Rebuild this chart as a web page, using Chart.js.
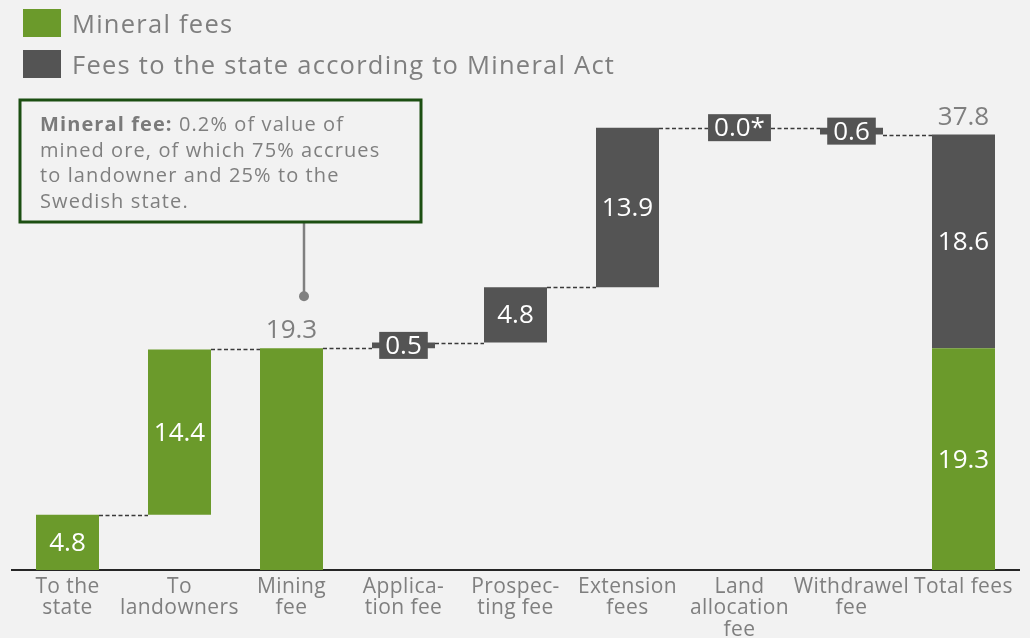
<!DOCTYPE html>
<html>
<head>
<meta charset="utf-8">
<script src="https://cdn.jsdelivr.net/npm/chart.js@4.4.1/dist/chart.umd.min.js"></script>
<style>
  html, body { margin: 0; padding: 0; background: #f2f2f2; }
  #wrap { position: relative; width: 1030px; height: 638px; overflow: hidden; background: #f2f2f2; }
  #chart { position: absolute; left: 0; top: 0; }
  #legend { position: absolute; left: 23px; top: 9px; font-family: 'Open Sans', sans-serif; color: #7f7f7f; font-size: 25.5px; letter-spacing: 1.25px; z-index: 2; }
  .item { display: flex; align-items: center; height: 28px; margin-bottom: 13px; white-space: nowrap; }
  .sw { width: 38px; height: 28px; margin-right: 11px; flex: none; }
</style>
</head>
<body>
<div id="wrap">
  <canvas id="chart" width="1030" height="638"></canvas>
  <div id="legend"></div>
</div>
<script>
// ---- data ----
const categories = [
  ["To the", "state"],
  ["To", "landowners"],
  ["Mining", "fee"],
  ["Applica-", "tion fee"],
  ["Prospec-", "ting fee"],
  ["Extension", "fees"],
  ["Land", "allocation", "fee"],
  ["Withdrawel", "fee"],
  ["Total fees"]
];
const seriesNames = ["Mineral fees", "Fees to the state according to Mineral Act"];
const mineralFees = [4.8, 14.4];            // To the state, To landowners
const miningFeeTotal = 19.3;                // Mining fee
const stateFees = [0.5, 4.8, 13.9, 0.0, -0.6]; // Application .. Withdrawel
const stateFeeMarks = ["", "", "", "*", ""];
const stateFeesTotal = 18.6;
const totalFees = 37.8;
const noteBold = "Mineral fee:";
const noteLines = [" 0.2% of value of", "mined ore, of which 75% accrues", "to landowner and 25% to the", "Swedish state."];

// ---- build floating bars ----
const GREEN = '#6b9a2b', DARK = '#545454', GRAY = '#7f7f7f';
const n = categories.length;
const greenData = new Array(n).fill(null);
const darkData = new Array(n).fill(null);
const greenLabels = new Array(n).fill(null);
const darkLabels = new Array(n).fill(null);
const levels = [];
let run = 0;
mineralFees.forEach((v, i) => {
  greenData[i] = [run, run + v]; greenLabels[i] = v.toFixed(1); run += v; levels[i] = run;
});
const miningIdx = mineralFees.length;
greenData[miningIdx] = [0, miningFeeTotal];
levels[miningIdx] = miningFeeTotal;
run = miningFeeTotal;
stateFees.forEach((v, k) => {
  const i = miningIdx + 1 + k;
  darkData[i] = [run, run + v];
  darkLabels[i] = Math.abs(v).toFixed(1) + stateFeeMarks[k];
  run += v; levels[i] = run;
});
const totalIdx = n - 1;
greenData[totalIdx] = [0, miningFeeTotal];
greenLabels[totalIdx] = miningFeeTotal.toFixed(1);
darkData[totalIdx] = [miningFeeTotal, miningFeeTotal + stateFeesTotal];
darkLabels[totalIdx] = stateFeesTotal.toFixed(1);

const FONT = "'Open Sans', sans-serif";

const waterfallPlugin = {
  id: 'waterfall',
  beforeDraw(chart) {
    chart.ctx.letterSpacing = '0.4px';
  },
  beforeDatasetsDraw(chart) {
    const ctx = chart.ctx, x = chart.scales.x, y = chart.scales.y;
    const bw = chart.getDatasetMeta(0).data[0].width;
    ctx.save();
    ctx.strokeStyle = '#3a3a3a';
    ctx.lineWidth = 1.3;
    ctx.setLineDash([4, 2.5]);
    for (let i = 0; i < n - 1; i++) {
      const py = Math.round(y.getPixelForValue(levels[i])) + 0.5;
      ctx.beginPath();
      ctx.moveTo(x.getPixelForValue(i) + bw / 2, py);
      ctx.lineTo(x.getPixelForValue(i + 1) - bw / 2, py);
      ctx.stroke();
    }
    ctx.restore();
  },
  afterDatasetsDraw(chart) {
    const ctx = chart.ctx, x = chart.scales.x, y = chart.scales.y;
    ctx.save();
    ctx.letterSpacing = '0px';
    ctx.font = '26px ' + FONT;
    ctx.textAlign = 'center';
    ctx.textBaseline = 'middle';
    const drawSet = (dsIdx, labels) => {
      const meta = chart.getDatasetMeta(dsIdx);
      meta.data.forEach((el, i) => {
        const lab = labels[i];
        if (lab == null) return;
        const cy = (el.y + el.base) / 2;
        const h = Math.abs(el.base - el.y);
        if (h < 30) {
          const tw = ctx.measureText(lab).width;
          const bwid = tw + 12, bh = 27;
          ctx.fillStyle = DARK;
          ctx.fillRect(el.x - bwid / 2, cy - bh / 2, bwid, bh);
        }
        ctx.fillStyle = '#ffffff';
        ctx.fillText(lab, el.x, cy + 1);
      });
    };
    drawSet(0, greenLabels);
    drawSet(1, darkLabels);
    // totals above bars
    ctx.fillStyle = GRAY;
    ctx.textBaseline = 'alphabetic';
    ctx.fillText(miningFeeTotal.toFixed(1), x.getPixelForValue(miningIdx), y.getPixelForValue(miningFeeTotal) - 10);
    ctx.fillText(totalFees.toFixed(1), x.getPixelForValue(totalIdx), y.getPixelForValue(miningFeeTotal + stateFeesTotal) - 10);

    // annotation callout
    const bx = 20, by = 100, bwid = 401, bh = 122;
    const pinX = x.getPixelForValue(miningIdx) + 12.5;
    const pinY = y.getPixelForValue(miningFeeTotal) - 52;
    ctx.strokeStyle = '#808080';
    ctx.lineWidth = 2.5;
    ctx.setLineDash([]);
    ctx.beginPath();
    ctx.moveTo(pinX, by + bh);
    ctx.lineTo(pinX, pinY);
    ctx.stroke();
    ctx.fillStyle = '#808080';
    ctx.beginPath();
    ctx.arc(pinX, pinY, 5, 0, Math.PI * 2);
    ctx.fill();
    ctx.fillStyle = '#f2f2f2';
    ctx.fillRect(bx, by, bwid, bh);
    ctx.strokeStyle = '#1c4f12';
    ctx.lineWidth = 3;
    ctx.strokeRect(bx, by, bwid, bh);
    ctx.textAlign = 'left';
    ctx.textBaseline = 'alphabetic';
    ctx.letterSpacing = '1.1px';
    const tx = 40;
    ctx.font = 'bold 20px ' + FONT;
    ctx.fillStyle = '#7a7a7a';
    ctx.fillText(noteBold, tx, 131);
    const bwBold = ctx.measureText(noteBold).width;
    ctx.font = '20px ' + FONT;
    ctx.fillStyle = GRAY;
    ctx.fillText(noteLines[0], tx + bwBold, 131);
    for (let k = 1; k < noteLines.length; k++) {
      ctx.fillText(noteLines[k], tx, 131 + k * 25.6);
    }
    ctx.restore();
  }
};

const chart = new Chart(document.getElementById('chart'), {
  type: 'bar',
  data: {
    labels: categories,
    datasets: [
      { label: seriesNames[0], data: greenData, backgroundColor: GREEN, grouped: false,
        barPercentage: 0.5625, categoryPercentage: 1 },
      { label: seriesNames[1], data: darkData, backgroundColor: DARK, grouped: false,
        barPercentage: 0.5625, categoryPercentage: 1 }
    ]
  },
  options: {
    responsive: false,
    animation: false,
    layout: { padding: { left: 11.5, right: 10.5, top: 53, bottom: 0 } },
    plugins: { legend: { display: false }, tooltip: { enabled: false } },
    scales: {
      x: {
        grid: { display: false, drawTicks: false },
        border: { display: true, color: '#262626', width: 2 },
        ticks: { color: GRAY, font: { family: FONT, size: 21, lineHeight: 1.03 }, padding: 6,
                 autoSkip: false, maxRotation: 0, minRotation: 0 },
        afterFit: (s) => { s.height = 68; }
      },
      y: { display: false, min: 0, max: 45 }
    }
  },
  plugins: [waterfallPlugin]
});

// HTML legend built from datasets
const leg = document.getElementById('legend');
chart.data.datasets.forEach(ds => {
  const it = document.createElement('div'); it.className = 'item';
  const sw = document.createElement('span'); sw.className = 'sw'; sw.style.background = ds.backgroundColor;
  const tx = document.createElement('span'); tx.textContent = ds.label;
  it.appendChild(sw); it.appendChild(tx); leg.appendChild(it);
});
</script>
</body>
</html>
